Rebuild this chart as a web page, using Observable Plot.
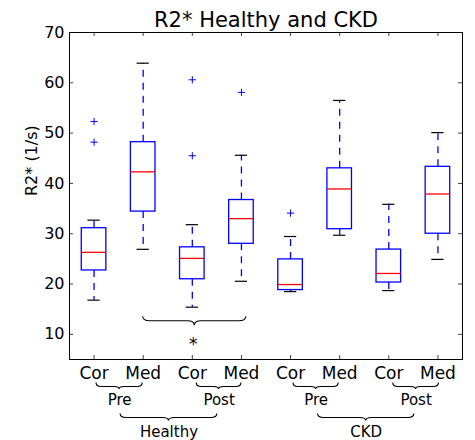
<!DOCTYPE html>
<html>
<head>
<meta charset="utf-8">
<script src="https://cdn.jsdelivr.net/npm/d3@7"></script>
<script src="https://cdn.jsdelivr.net/npm/@observablehq/plot@0.6"></script>
<style>
  body { margin: 0; background: white; }
</style>
</head>
<body>
<div id="chart"></div>
<script>
// ---- data ----
const title = "R2* Healthy and CKD";
const yLabel = "R2* (1/s)";
const categories = ["Cor", "Med", "Cor", "Med", "Cor", "Med", "Cor", "Med"];
const positions = [1, 2, 3, 4, 5, 6, 7, 8];
const whiskerLow = [16.8, 26.9, 15.4, 20.55, 18.5, 29.7, 18.7, 24.9];
const q1 = [22.7, 34.4, 20.95, 28.0, 18.8, 30.9, 20.3, 30.0];
const medians = [26.3, 42.3, 25.1, 33.0, 19.9, 38.9, 22.1, 37.9];
const q3 = [31.1, 48.2, 27.3, 36.7, 24.9, 43.0, 26.85, 43.3];
const whiskerHigh = [32.7, 63.9, 31.8, 45.6, 29.45, 56.5, 35.85, 50.1];
const outliers = [[52.3, 48.2], [], [60.6, 45.5], [58.1], [34.1], [], [], []];
const yTicks = [10, 20, 30, 40, 50, 60, 70];

// group annotations below the axis
const timeLabels = ["Pre", "Post", "Pre", "Post"];
const timeStart = [1.05, 3.09, 5.06, 7.09];
const timeEnd = [1.99, 4.0, 5.98, 8.02];
const cohortLabels = ["Healthy", "CKD"];
const cohortStart = [1.54, 5.56];
const cohortEnd = [3.51, 7.52];

// significance annotation inside the plot
const sigStart = [2];
const sigEnd = [4.1];
const sigLevel = [13.5];
const sigMark = ["*"];
const sigX = [3.02];
const sigY = [7.9];

// ---- tables built from the arrays ----
const boxes = positions.map((p, i) => ({
  pos: p, cat: categories[i], lo: whiskerLow[i], q1: q1[i], med: medians[i], q3: q3[i], hi: whiskerHigh[i]
}));
const outlierPts = outliers.flatMap((vals, i) => vals.map(v => ({pos: positions[i], v})));
const timeGroups = timeLabels.map((t, i) => ({label: t, x1: timeStart[i], x2: timeEnd[i]}));
const cohortGroups = cohortLabels.map((t, i) => ({label: t, x1: cohortStart[i], x2: cohortEnd[i]}));
const sigBraces = sigStart.map((s, i) => ({x1: s, x2: sigEnd[i], y: sigLevel[i]}));
const sigTexts = sigMark.map((m, i) => ({text: m, x: sigX[i], y: sigY[i]}));

// ---- styles ----
const W = 475, H = 440;
const mT = 32, mB = 81, mL = 69, mR = 13;
const frameW = W - mL - mR, frameH = H - mT - mB;
const tickLen = 4;
const boxHalf = 0.25, capHalf = 0.125;
const blue = "#0000ff", red = "#ff0000";
const dash = "7,6";

const thinPlus = {
  draw(ctx, size) {
    const r = Math.sqrt(size / Math.PI);
    ctx.moveTo(-r, 0); ctx.lineTo(r, 0);
    ctx.moveTo(0, -r); ctx.lineTo(0, r);
  }
};

function bracePath(x0, x1, yt, ym, yb, r) {
  const xc = (x0 + x1) / 2;
  return `M${x0},${yt}Q${x0},${ym} ${x0 + r},${ym}L${xc - r},${ym}Q${xc},${ym} ${xc},${yb}` +
         `Q${xc},${ym} ${xc + r},${ym}L${x1 - r},${ym}Q${x1},${ym} ${x1},${yt}`;
}

function braces(index, scales, values, dimensions) {
  const {x, y} = scales;
  const g = d3.create("svg:g").attr("fill", "none").attr("stroke", "black").attr("stroke-width", 1.1);
  const bottom = dimensions.height - dimensions.marginBottom;
  for (const b of sigBraces) {
    const yt = y(b.y);
    g.append("path").attr("d", bracePath(x(b.x1), x(b.x2), yt, yt + 4.5, yt + 9, 7));
  }
  for (const b of timeGroups) {
    const yt = bottom + 23.5;
    g.append("path").attr("d", bracePath(x(b.x1), x(b.x2), yt, yt + 4, yt + 6.5, 5));
  }
  for (const b of cohortGroups) {
    const yt = bottom + 54.5;
    g.append("path").attr("d", bracePath(x(b.x1), x(b.x2), yt, yt + 4, yt + 7, 6));
  }
  return g.node();
}

const chart = Plot.plot({
  width: W,
  height: H,
  marginTop: mT,
  marginBottom: mB,
  marginLeft: mL,
  marginRight: mR,
  style: {fontFamily: "DejaVu Sans", fontSize: "16px", background: "white", color: "black"},
  x: {domain: [0.5, 8.5], axis: null},
  y: {domain: [5, 70], axis: null},
  marks: [
    // axes (labels only), ticks drawn inward below
    Plot.axisX(positions, {tickSize: 0, tickPadding: 7, fontSize: 17, tickFormat: d => categories[positions.indexOf(d)], label: null}),
    Plot.axisY(yTicks, {tickSize: 0, tickPadding: 5, fontSize: 16, label: null}),
    Plot.tickX(positions, {x: d => d, insetTop: frameH - tickLen, stroke: "#444", strokeWidth: 1}),
    Plot.tickX(positions, {x: d => d, insetBottom: frameH - tickLen, stroke: "#444", strokeWidth: 1}),
    Plot.tickY(yTicks, {y: d => d, insetRight: frameW - tickLen, stroke: "#444", strokeWidth: 1}),
    Plot.tickY(yTicks, {y: d => d, insetLeft: frameW - tickLen, stroke: "#444", strokeWidth: 1}),
    // whiskers
    Plot.ruleX(boxes, {x: "pos", y1: "q3", y2: "hi", stroke: blue, strokeWidth: 1.3, strokeDasharray: dash}),
    Plot.ruleX(boxes, {x: "pos", y1: "q1", y2: "lo", stroke: blue, strokeWidth: 1.3, strokeDasharray: dash}),
    // caps
    Plot.ruleY(boxes, {y: "hi", x1: d => d.pos - capHalf, x2: d => d.pos + capHalf, stroke: "black", strokeWidth: 1.2}),
    Plot.ruleY(boxes, {y: "lo", x1: d => d.pos - capHalf, x2: d => d.pos + capHalf, stroke: "black", strokeWidth: 1.2}),
    // boxes
    Plot.rect(boxes, {x1: d => d.pos - boxHalf, x2: d => d.pos + boxHalf, y1: "q1", y2: "q3", fill: "none", stroke: blue, strokeWidth: 1.3}),
    // medians
    Plot.ruleY(boxes, {y: "med", x1: d => d.pos - boxHalf, x2: d => d.pos + boxHalf, stroke: red, strokeWidth: 1.3}),
    // outliers
    Plot.dot(outlierPts, {x: "pos", y: "v", symbol: thinPlus, r: 3.6, stroke: blue, fill: "none", strokeWidth: 1}),
    // frame
    Plot.frame({stroke: "black", strokeWidth: 1}),
    // significance star
    Plot.text(sigTexts, {x: "x", y: "y", text: "text", fontSize: 17, fill: "black"}),
    // group labels below axis
    Plot.text(timeGroups, {x: d => (d.x1 + d.x2) / 2, text: "label", frameAnchor: "bottom", lineAnchor: "bottom", dy: 45.3, fontSize: 15}),
    Plot.text(cohortGroups, {x: d => (d.x1 + d.x2) / 2, text: "label", frameAnchor: "bottom", lineAnchor: "bottom", dy: 77.5, fontSize: 15}),
    braces,
    // title and y label
    Plot.text([title], {text: d => d, frameAnchor: "top", lineAnchor: "bottom", dy: -5.3, fontSize: 21}),
    Plot.text([yLabel], {text: d => d, frameAnchor: "left", rotate: -90, lineAnchor: "bottom", dx: -33, fontSize: 16})
  ]
});
document.getElementById("chart").appendChild(chart);
</script>
</body>
</html>
